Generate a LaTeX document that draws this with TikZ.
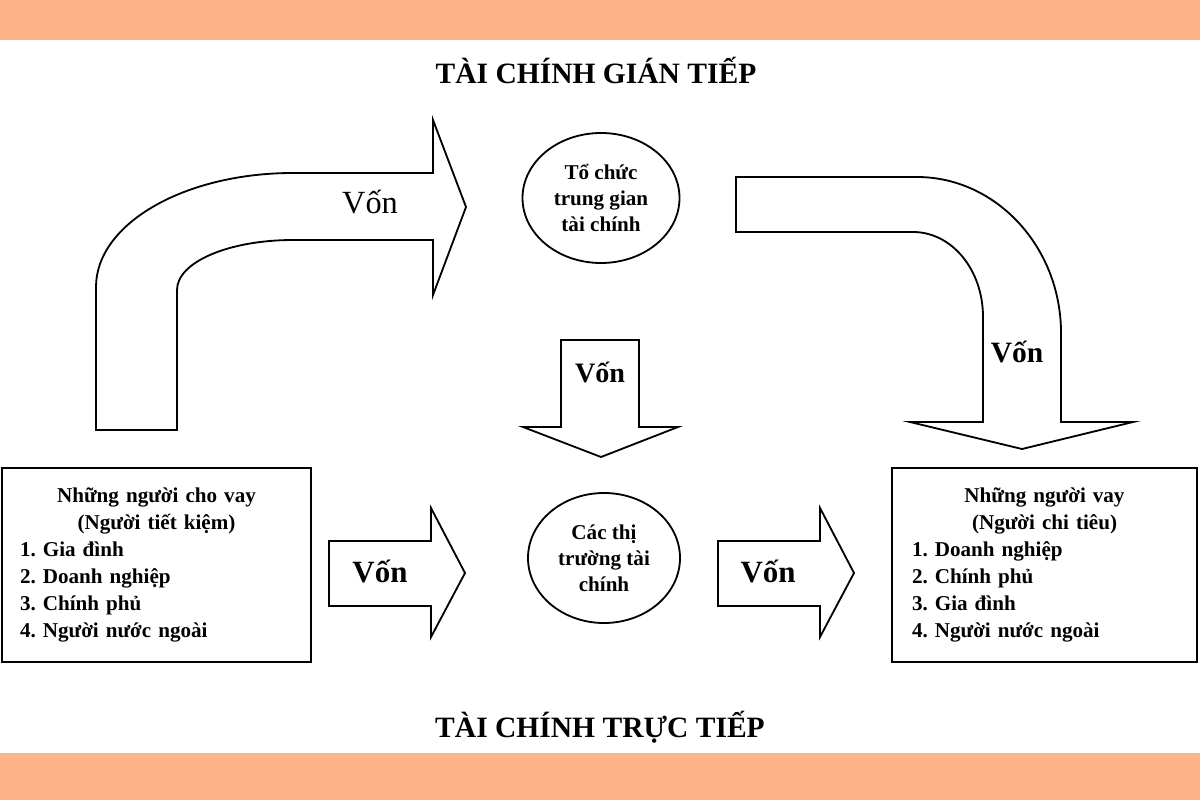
\documentclass[tikz,border=0pt]{standalone}
\usepackage{fontspec}
\setmainfont{Liberation Serif}
\usetikzlibrary{shapes.geometric}
\definecolor{bandorange}{HTML}{FFB388}
\newcommand{\headline}[1]{\makebox[\linewidth][c]{#1}}
\frenchspacing
\begin{document}
\begin{tikzpicture}[x=0.025cm,y=-0.025cm,
	box_node/.style={draw,line width=1.3pt,align=left,inner sep=0pt,font=\fontsize{15}{19.2}\selectfont\bfseries},
	oval_node/.style={ellipse,draw,line width=1.3pt,inner sep=0pt,align=center,font=\fontsize{15}{18.5}\selectfont\bfseries},
	big_arrow/.style={draw,line width=1.3pt,line join=miter},
	von_node/.style={font=\fontsize{22}{24}\selectfont\bfseries},
	title_node/.style={font=\fontsize{21}{24}\selectfont\bfseries}]

		\useasboundingbox (0,0) rectangle (1200,800);
		\fill[bandorange] (0,0) rectangle (1200,40);
		\fill[bandorange] (0,753) rectangle (1200,800);

		\node[title_node] (t1) at (596,70) {TÀI CHÍNH GIÁN TIẾP};
		\node[title_node] (t2) at (600,727) {TÀI CHÍNH TRỰC TIẾP};

		\node[box_node,minimum width=309*0.025cm,minimum height=194*0.025cm,text width=273*0.025cm] (lenders) at (156.5,565) {%
			\headline{Những người cho vay}\\
			\headline{(Người tiết kiệm)}\\
			1. Gia đình\\
			2. Doanh nghiệp\\
			3. Chính phủ\\
			4. Người nước ngoài};
		\node[box_node,minimum width=305*0.025cm,minimum height=194*0.025cm,text width=265*0.025cm] (borrowers) at (1044.5,565) {%
			\headline{Những người vay}\\
			\headline{(Người chi tiêu)}\\
			1. Doanh nghiệp\\
			2. Chính phủ\\
			3. Gia đình\\
			4. Người nước ngoài};

		\node[oval_node,minimum width=157*0.025cm,minimum height=130*0.025cm] (inter) at (601,198) {Tổ chức\\trung gian\\tài chính};
		\node[oval_node,minimum width=152*0.025cm,minimum height=130*0.025cm] (market) at (604,558) {Các thị\\trường tài\\chính};

		% indirect: lenders -> intermediaries
		\draw[big_arrow] (96,430) -- (96,287) .. controls (96,224) and (184,173) .. (293,173)
			-- (433,173) -- (433,120) -- (466,207) -- (433,295) -- (433,240) -- (293,240)
			.. controls (229,240) and (177,262) .. (177,290) -- (177,430) -- cycle;
		\node[von_node,font=\fontsize{23}{24}\selectfont] (v1) at (370,202) {Vốn};

		% indirect: intermediaries -> borrowers
		\draw[big_arrow] (736,177) -- (917,177) .. controls (996,177) and (1061,247) .. (1061,333)
			-- (1061,422) -- (1133,422) -- (1022,449) -- (910,422) -- (983,422) -- (983,317)
			.. controls (983,270) and (952,232) .. (913,232) -- (736,232) -- cycle;
		\node[von_node,font=\fontsize{21}{24}\selectfont\bfseries] (v2) at (1017,352) {Vốn};

		% intermediaries -> markets
		\draw[big_arrow] (561,340) -- (639,340) -- (639,427) -- (678,427) -- (601,457) -- (523,427) -- (561,427) -- cycle;
		\node[von_node,font=\fontsize{20}{24}\selectfont\bfseries] (v3) at (600,372) {Vốn};

		% direct finance
		\draw[big_arrow] (329,541) -- (431,541) -- (431,508) -- (465,573) -- (431,637) -- (431,606) -- (329,606) -- cycle;
		\node[von_node] (v4) at (380,571) {Vốn};
		\draw[big_arrow] (718,541) -- (820,541) -- (820,508) -- (854,573) -- (820,637) -- (820,606) -- (718,606) -- cycle;
		\node[von_node] (v5) at (768,571) {Vốn};
		\end{tikzpicture}
\end{document}
